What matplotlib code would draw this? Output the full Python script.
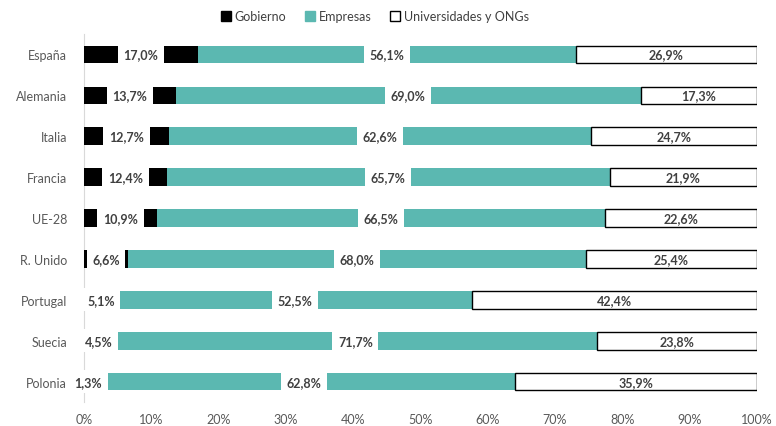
import matplotlib.pyplot as plt
from matplotlib.patches import Patch

# datos (% del gasto en I+D por sector de ejecucion)
paises = ['España', 'Alemania', 'Italia', 'Francia', 'UE-28', 'R. Unido', 'Portugal', 'Suecia', 'Polonia']
gobierno = [17.0, 13.7, 12.7, 12.4, 10.9, 6.6, 5.1, 4.5, 1.3]
empresas = [56.1, 69.0, 62.6, 65.7, 66.5, 68.0, 52.5, 71.7, 62.8]
universidades = [26.9, 17.3, 24.7, 21.9, 22.6, 25.4, 42.4, 23.8, 35.9]

teal = '#5BB8B1'
txt = '#404040'
plt.rcParams['font.family'] = ['Lato', 'DejaVu Sans']

fig = plt.figure(figsize=(7.76, 4.27), dpi=100)
ax = fig.add_axes([0.108, 0.056, 0.8675, 0.862])

y = range(len(paises))
h = 0.43
ax.barh(y, gobierno, height=h, color='black', zorder=2)
ax.barh(y, empresas, left=gobierno, height=h, color=teal, zorder=2)
left3 = [g + e for g, e in zip(gobierno, empresas)]
ax.barh(y, universidades, left=left3, height=h, color='white', edgecolor='black', linewidth=1, zorder=2)

def fmt(v):
    return f'{v:.1f}%'.replace('.', ',')

caja = dict(boxstyle='square,pad=0.45', facecolor='white', edgecolor='none')
for i in y:
    ax.text(gobierno[i] / 2, i, fmt(gobierno[i]), ha='center', va='center', fontsize=9,
            fontweight='bold', color=txt, bbox=caja, zorder=5, clip_on=False)
    ax.text(gobierno[i] + empresas[i] / 2, i, fmt(empresas[i]), ha='center', va='center', fontsize=9,
            fontweight='bold', color=txt, bbox=caja, zorder=5)
    ax.text(left3[i] + universidades[i] / 2, i, fmt(universidades[i]), ha='center', va='center', fontsize=9,
            fontweight='bold', color=txt, zorder=5)

ax.set_xlim(0, 100)
ax.set_ylim(8.5, -0.5)
ax.set_yticks(list(y))
ax.set_yticklabels(paises)
ax.set_xticks(range(0, 101, 10))
ax.set_xticklabels([f'{v}%' for v in range(0, 101, 10)])
ax.tick_params(length=0, labelsize=9, colors='#595959', pad=8)
ax.tick_params(axis='y', pad=12)
for s in ['top', 'right', 'bottom']:
    ax.spines[s].set_visible(False)
ax.spines['left'].set_color('#D9D9D9')
ax.spines['left'].set_zorder(1)

handles = [Patch(facecolor='black', edgecolor='black'),
           Patch(facecolor=teal, edgecolor=teal),
           Patch(facecolor='white', edgecolor='black')]
fig.legend(handles, ['Gobierno', 'Empresas', 'Universidades y ONGs'], loc='upper center',
           bbox_to_anchor=(0.483, 1.0), ncol=3, frameon=False, fontsize=9,
           handlelength=0.8, handleheight=0.8, handletextpad=0.3, columnspacing=1.5,
           labelcolor=txt)

fig.savefig('out.png', dpi=100)
